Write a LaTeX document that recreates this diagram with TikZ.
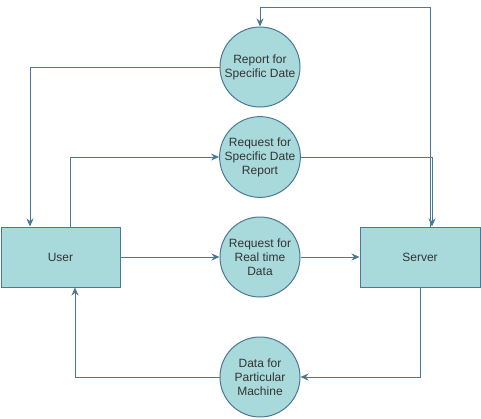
\documentclass[tikz,border=0pt]{standalone}
\usepackage{fontspec}
\setmainfont{Liberation Sans}
\usetikzlibrary{arrows.meta}
\definecolor{fillc}{HTML}{A9DADB}
\definecolor{linec}{HTML}{4A7896}
\definecolor{textc}{HTML}{333333}
\tikzset{
  ent/.style={draw=linec, fill=fillc, line width=1pt, minimum height=60pt, inner sep=0pt, text=textc, font=\fontsize{12}{14}\selectfont},
  proc/.style={circle, draw=linec, fill=fillc, line width=1pt, minimum size=80pt, inner sep=0pt, align=center, text=textc, font=\fontsize{12}{14}\selectfont},
  arr/.style={draw=linec, line width=1pt, -{Stealth[length=8pt,width=7pt]}},
  ln/.style={draw=linec, line width=1pt}
}
\begin{document}
\begin{tikzpicture}[x=1pt,y=-1pt]
\useasboundingbox (0,0) rectangle (481,418);
\node[ent, minimum width=119pt] (user) at (60.5,257) {User};
\node[ent, minimum width=120pt] (server) at (420,257) {Server};
\node[proc] (rep) at (260,67) {Report for\\Specific Date};
\node[proc] (req) at (260,157) {Request for\\Specific Date\\Report};
\node[proc] (rt) at (260,257) {Request for\\Real time\\Data};
\node[proc] (data) at (260,377) {Data for\\Particular\\Machine};
\coordinate (top) at (260,7.5);
\draw[arr] ([xshift=10pt]server.north) |- (top) -- (rep.north);
\draw[arr] (rep.west) -| ([xshift=-30.5pt]user.north);
\draw[arr] ([xshift=9.5pt]user.north) |- (req.west);
\draw[arr] (req.east) -| ([xshift=12pt]server.north);
\draw[arr] (user.east) -- (rt.west);
\draw[arr] (rt.east) -- (server.west);
\draw[arr] (server.south) |- (data.east);
\draw[arr] (data.west) -| ([xshift=14.5pt]user.south);
\end{tikzpicture}
\end{document}
